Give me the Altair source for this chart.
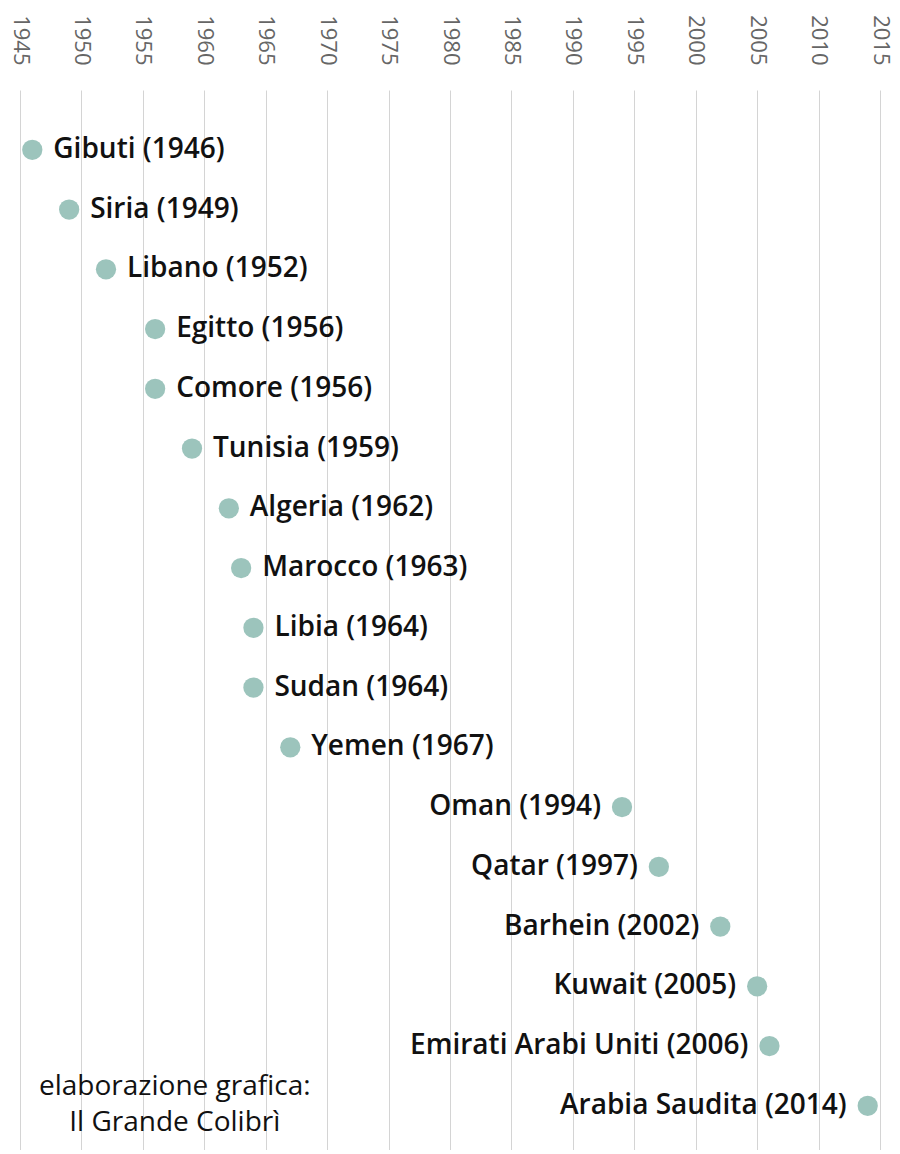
import altair as alt
import pandas as pd

countries = ["Gibuti", "Siria", "Libano", "Egitto", "Comore", "Tunisia", "Algeria",
             "Marocco", "Libia", "Sudan", "Yemen", "Oman", "Qatar", "Barhein",
             "Kuwait", "Emirati Arabi Uniti", "Arabia Saudita"]
years = [1946, 1949, 1952, 1956, 1956, 1959, 1962, 1963, 1964, 1964, 1967,
         1994, 1997, 2002, 2005, 2006, 2014]
label_side = ["right"] * 11 + ["left"] * 6
credit_lines = ["elaborazione grafica:", "Il Grande Colibrì"]
tick_years = list(range(1945, 2016, 5))

df = pd.DataFrame({
    "country": countries,
    "year": years,
    "row": list(range(len(countries))),
    "side": label_side,
})
df["label"] = [f"{c} ({y})" for c, y in zip(countries, years)]

W, H = 860, 1060
xscale = alt.Scale(domain=[1945, 2015], nice=False, zero=False)
yscale = alt.Scale(domain=[16.74, -1], nice=False, zero=False)
x = alt.X("year:Q", scale=xscale,
          axis=alt.Axis(orient="top", values=tick_years, format="d", title=None,
                        labelAngle=90, labelAlign="right", labelBaseline="middle",
                        labelFont="Open Sans", labelFontSize=22, labelFontWeight=400,
                        labelColor="#666666", labelPadding=25, domain=False,
                        ticks=False, grid=True, gridColor="#d4d4d4", gridWidth=1))
y = alt.Y("row:Q", scale=yscale, axis=None)

base = alt.Chart(df)
points = base.mark_circle(size=410, color="#9cc4bc", opacity=1).encode(x=x, y=y)
right_labels = base.transform_filter(alt.datum.side == "right").mark_text(
    align="left", baseline="middle", dx=21, fontSize=28, font="Open Sans",
    fontWeight=600, color="#111111").encode(x=x, y=y, text="label:N")
left_labels = base.transform_filter(alt.datum.side == "left").mark_text(
    align="right", baseline="middle", dx=-21, fontSize=28, font="Open Sans",
    fontWeight=600, color="#111111").encode(x=x, y=y, text="label:N")

credit_df = pd.DataFrame({"t": credit_lines, "yr": [1957.6, 1957.6], "row": [15.69, 16.28]})
credit = alt.Chart(credit_df).mark_text(
    align="center", baseline="middle", fontSize=28, font="Open Sans", fontWeight=400,
    color="#111111").encode(
    x=alt.X("yr:Q", scale=xscale),
    y=alt.Y("row:Q", scale=yscale),
    text="t:N")

chart = alt.layer(points, right_labels, left_labels, credit).properties(
    width=W, height=H,
    autosize=alt.AutoSizeParams(type="none"),
    padding={"left": 12, "top": 82, "right": 12, "bottom": 0},
).configure(background="white").configure_view(stroke=None)

chart.save("out.html", embed_options={"renderer": "svg", "actions": False})
